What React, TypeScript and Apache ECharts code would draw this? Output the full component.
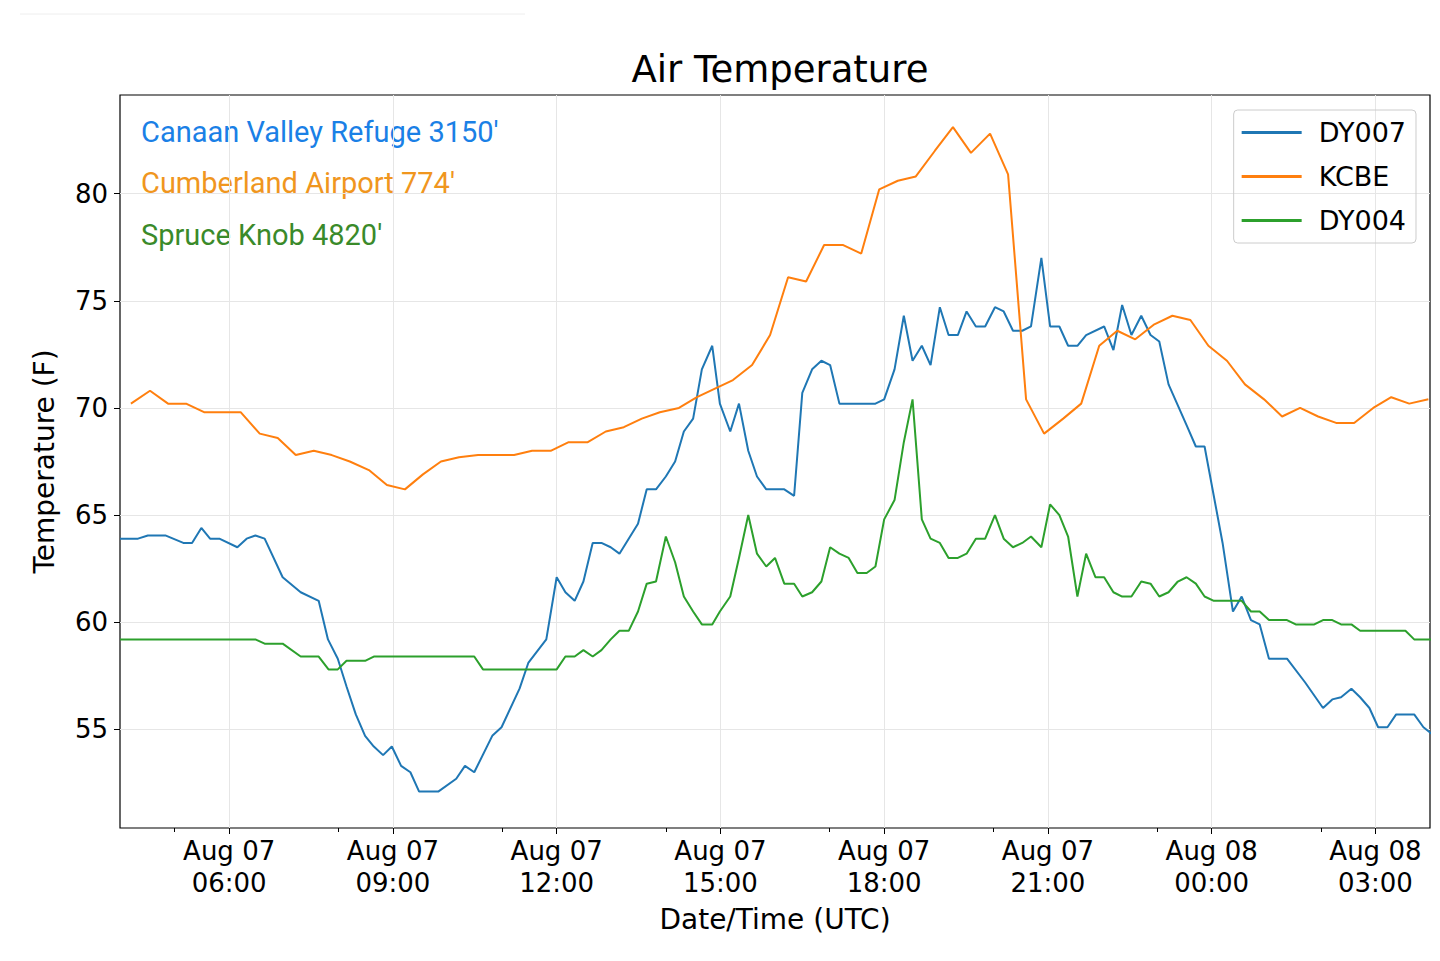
import React, { useEffect, useRef } from "react";
import * as echarts from "echarts";

// hours since Aug 07 04:00 UTC, temperature (F)
const dy007T = [0,0.33,0.51,0.83,1.16,1.32,1.49,1.65,1.82,2.15,2.32,2.48,2.65,2.98,3.31,3.64,3.81,3.99,4.15,4.32,4.49,4.65,4.82,4.98,5.15,5.32,5.48,5.83,6.16,6.32,6.49,6.82,6.99,7.32,7.48,7.81,8.0,8.16,8.33,8.49,8.66,8.82,8.99,9.15,9.32,9.49,9.65,9.82,10.0,10.17,10.33,10.5,10.66,10.85,10.99,11.18,11.34,11.51,11.67,11.84,12.17,12.35,12.5,12.68,12.85,13.01,13.18,13.84,14.0,14.19,14.36,14.52,14.69,14.85,15.02,15.18,15.35,15.51,15.68,15.85,16.03,16.19,16.36,16.53,16.69,16.88,17.04,17.21,17.37,17.54,17.7,18.03,18.2,18.36,18.53,18.71,18.88,19.04,19.21,19.54,19.71,19.87,20.2,20.39,20.55,20.72,20.88,21.05,21.38,21.71,22.04,22.21,22.37,22.56,22.72,22.89,23.05,23.22,23.38,23.71,23.88,24.08];
const dy007V = [63.9,63.9,64.05,64.05,63.7,63.7,64.4,63.9,63.9,63.5,63.9,64.05,63.9,62.1,61.4,61.0,59.2,58.3,57.0,55.7,54.7,54.2,53.8,54.2,53.3,53.0,52.1,52.1,52.7,53.3,53.0,54.7,55.1,56.9,58.1,59.2,62.1,61.4,61.0,61.9,63.7,63.7,63.5,63.2,63.9,64.6,66.2,66.2,66.8,67.5,68.9,69.5,71.8,72.9,70.2,68.9,70.2,68.0,66.8,66.2,66.2,65.9,70.7,71.8,72.2,72.0,70.2,70.2,70.4,71.8,74.3,72.2,72.9,72.0,74.7,73.4,73.4,74.5,73.8,73.8,74.7,74.5,73.6,73.6,73.8,77.0,73.8,73.8,72.9,72.9,73.4,73.8,72.7,74.8,73.4,74.3,73.4,73.1,71.1,69.2,68.2,68.2,63.7,60.5,61.2,60.1,59.9,58.3,58.3,57.2,56.0,56.4,56.5,56.9,56.5,56.0,55.1,55.1,55.7,55.7,55.1,54.7];

const kcbeT = [0.2,0.55,0.88,1.21,1.54,1.88,2.21,2.56,2.89,3.22,3.55,3.88,4.21,4.56,4.89,5.22,5.55,5.88,6.21,6.56,6.89,7.22,7.55,7.89,8.22,8.57,8.9,9.23,9.56,9.89,10.24,10.57,10.9,11.23,11.58,11.91,12.24,12.57,12.9,13.25,13.58,13.91,14.25,14.58,14.93,15.26,15.59,15.94,16.27,16.6,16.93,17.28,17.61,17.94,18.27,18.6,18.95,19.28,19.61,19.94,20.28,20.61,20.96,21.29,21.62,21.95,22.28,22.61,22.96,23.29,23.62,23.97];
const kcbeV = [70.2,70.8,70.2,70.2,69.8,69.8,69.8,68.8,68.6,67.8,68.0,67.8,67.5,67.1,66.4,66.2,66.9,67.5,67.7,67.8,67.8,67.8,68.0,68.0,68.4,68.4,68.9,69.1,69.5,69.8,70.0,70.5,70.9,71.3,72.0,73.4,76.1,75.9,77.6,77.6,77.2,80.2,80.6,80.8,82.0,83.1,81.9,82.8,80.9,70.4,68.8,69.5,70.2,72.9,73.6,73.2,73.9,74.3,74.1,72.9,72.2,71.1,70.4,69.6,70.0,69.6,69.3,69.3,70.0,70.5,70.2,70.4];

const dy004T = [0,2.48,2.65,2.98,3.31,3.64,3.82,3.99,4.15,4.49,4.65,6.49,6.65,8.0,8.16,8.33,8.49,8.66,8.82,8.99,9.15,9.32,9.49,9.65,9.82,10.0,10.17,10.33,10.5,10.66,10.85,10.99,11.18,11.34,11.51,11.67,11.84,12.0,12.17,12.35,12.5,12.68,12.85,13.01,13.18,13.35,13.51,13.68,13.84,14.0,14.19,14.36,14.52,14.69,14.85,15.02,15.18,15.35,15.51,15.68,15.85,16.03,16.19,16.36,16.53,16.69,16.88,17.04,17.21,17.37,17.54,17.7,17.87,18.03,18.2,18.36,18.53,18.71,18.88,19.04,19.21,19.38,19.54,19.71,19.87,20.04,20.55,20.72,20.88,21.05,21.38,21.54,21.88,22.04,22.21,22.37,22.56,22.72,23.55,23.71,24.08];
const dy004V = [59.2,59.2,59.0,59.0,58.4,58.4,57.8,57.8,58.2,58.2,58.4,58.4,57.8,57.8,58.4,58.4,58.7,58.4,58.7,59.2,59.6,59.6,60.5,61.8,61.9,64.0,62.8,61.2,60.5,59.9,59.9,60.5,61.2,63.0,65.0,63.2,62.6,63.0,61.8,61.8,61.2,61.4,61.9,63.5,63.2,63.0,62.3,62.3,62.6,64.8,65.7,68.4,70.4,64.8,63.9,63.7,63.0,63.0,63.2,63.9,63.9,65.0,63.9,63.5,63.7,64.0,63.5,65.5,65.0,64.0,61.2,63.2,62.1,62.1,61.4,61.2,61.2,61.9,61.8,61.2,61.4,61.9,62.1,61.8,61.2,61.0,61.0,60.5,60.5,60.1,60.1,59.9,59.9,60.1,60.1,59.9,59.9,59.6,59.6,59.2,59.2];

const START_HOUR = 4; // Aug 07 04:00
const xTicks = [6, 9, 12, 15, 18, 21, 24, 27];
const xMinor = [5, 8, 11, 14, 17, 20, 23, 26];
const yTicks = [55, 60, 65, 70, 75, 80];

const FONT = "DejaVu Sans";
const toPts = (t: number[], v: number[]) => t.map((h, i) => [START_HOUR + h, v[i]]);

export default function App() {
  const ref = useRef<HTMLDivElement>(null);
  useEffect(() => {
    document.body.style.margin = "0";
    const chart = echarts.init(ref.current!, null, { renderer: "svg" });
    const fmt = (h: number) => {
      const day = h >= 24 ? "Aug 08" : "Aug 07";
      const hh = String(h % 24).padStart(2, "0");
      return `${day}\n${hh}:00`;
    };
    const axisCommon = { min: 4, max: 28 };
    chart.setOption({
      animation: false,
      textStyle: { fontFamily: FONT },
      title: {
        text: "Air Temperature", left: 775, top: 46, textAlign: "center",
        textStyle: { fontFamily: FONT, fontSize: 37, fontWeight: "normal", color: "#000" },
      },
      grid: { left: 120, right: 10, top: 95, bottom: 133, show: true, borderColor: "#000", borderWidth: 1.2 },
      legend: {
        orient: "vertical", right: 24, top: 110, itemWidth: 60, itemHeight: 3, itemGap: 17,
        padding: [9, 10, 9, 8], borderColor: "#ccc", borderWidth: 1, borderRadius: 4,
        icon: "rect",
        textStyle: { fontFamily: FONT, fontSize: 27, color: "#000", padding: [0, 0, 0, 12] },
        data: ["DY007", "KCBE", "DY004"],
      },
      xAxis: [
        {
          type: "value", ...axisCommon,
          name: "Date/Time (UTC)", nameLocation: "middle", nameGap: 77,
          nameTextStyle: { fontFamily: FONT, fontSize: 28, color: "#000" },
          axisLine: { show: false },
          axisTick: { show: true, customValues: xTicks, length: 6, lineStyle: { color: "#000" } },
          axisLabel: { customValues: xTicks, formatter: (v: number) => fmt(v), fontSize: 26, color: "#000", lineHeight: 32, margin: 7 },
          splitLine: { show: true, lineStyle: { color: "#e6e6e6" } },
        },
        {
          type: "value", ...axisCommon, position: "bottom",
          axisLine: { show: false },
          axisTick: { show: true, customValues: xMinor, length: 4, lineStyle: { color: "#000" } },
          axisLabel: { show: false }, splitLine: { show: false },
        },
      ],
      yAxis: {
        type: "value", min: 50.4, max: 84.6,
        name: "Temperature (F)", nameLocation: "middle", nameGap: 62,
        nameTextStyle: { fontFamily: FONT, fontSize: 28, color: "#000" },
        axisLine: { show: false },
        axisTick: { show: true, customValues: yTicks, length: 6, lineStyle: { color: "#000" } },
        axisLabel: { customValues: yTicks, fontSize: 26, color: "#000", margin: 12 },
        splitLine: { show: true, lineStyle: { color: "#e6e6e6" } },
      },
      graphic: [
        { type: "line", shape: { x1: 20, y1: 14, x2: 525, y2: 14 }, style: { stroke: "#eee", lineWidth: 1 } },
        { type: "text", left: 141, top: 117, style: { text: "Canaan Valley Refuge 3150'", fill: "#1a80e6", font: "29px Roboto" } },
        { type: "text", left: 141, top: 168, style: { text: "Cumberland Airport 774'", fill: "#f0961e", font: "29px Roboto" } },
        { type: "text", left: 141, top: 220, style: { text: "Spruce Knob 4820'", fill: "#3a8a2a", font: "29px Roboto" } },
      ],
      series: [
        { name: "DY007", type: "line", data: toPts(dy007T, dy007V), showSymbol: false, color: "#1f77b4", lineStyle: { width: 2 } },
        { name: "KCBE", type: "line", data: toPts(kcbeT, kcbeV), showSymbol: false, color: "#ff7f0e", lineStyle: { width: 2 } },
        { name: "DY004", type: "line", data: toPts(dy004T, dy004V), showSymbol: false, color: "#2ca02c", lineStyle: { width: 2 } },
      ],
    });
    return () => chart.dispose();
  }, []);
  return <div ref={ref} style={{ width: 1440, height: 961 }} />;
}
